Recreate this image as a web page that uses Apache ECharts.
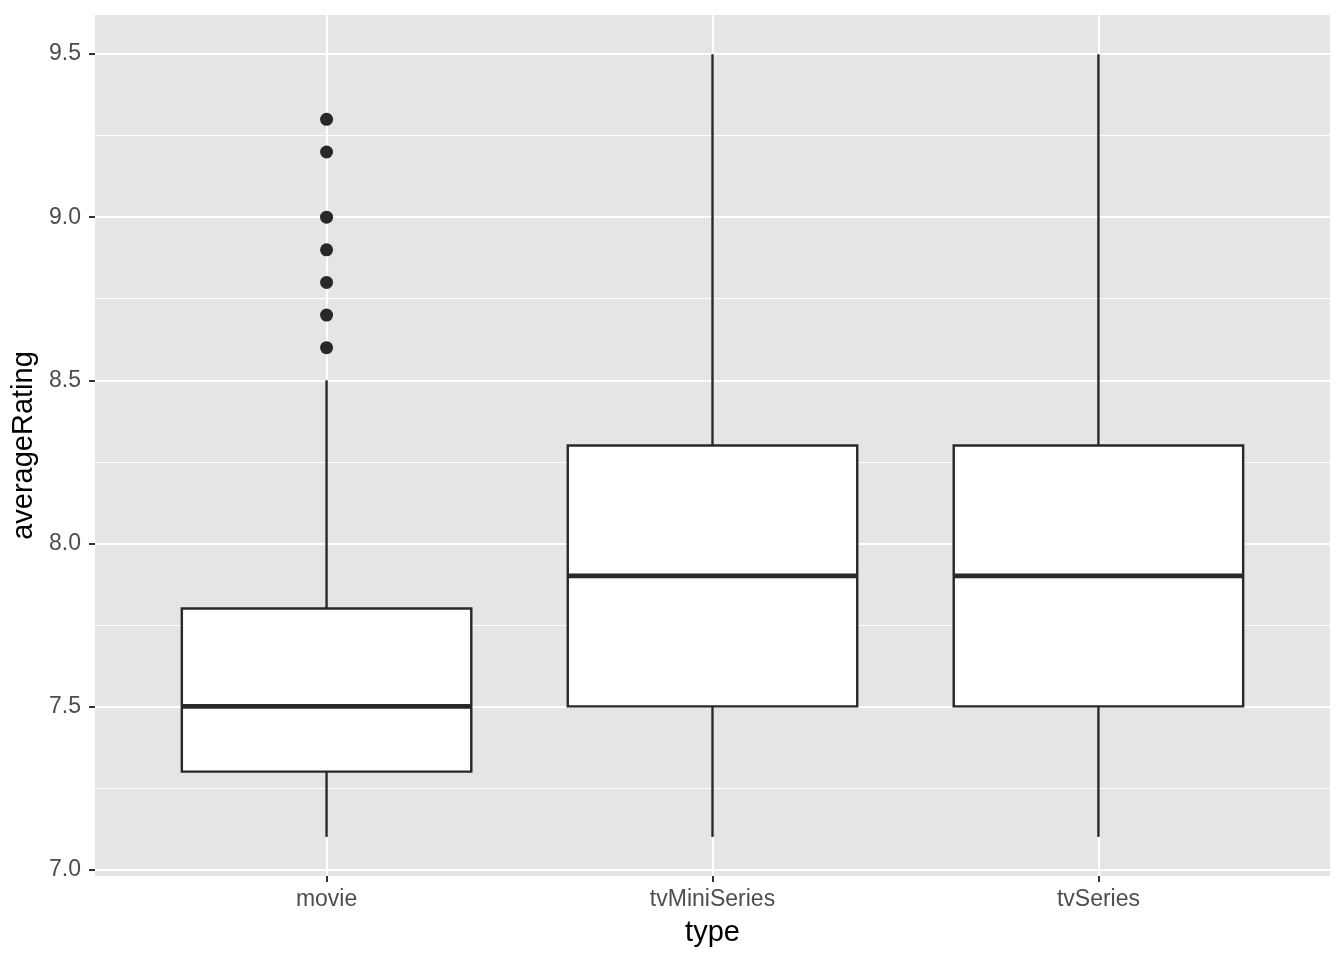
<!DOCTYPE html>
<html>
<head>
<meta charset="utf-8">
<script src="https://cdn.jsdelivr.net/npm/echarts@6/dist/echarts.min.js"></script>
<style>
html,body{margin:0;padding:0;background:#fff;}
#chart{width:1344px;height:960px;}
</style>
</head>
<body>
<div id="chart"></div>
<script>
// ---- data ----
var categories = ['movie', 'tvMiniSeries', 'tvSeries'];
// [lower whisker, Q1, median, Q3, upper whisker]
var boxStats = [
  [7.1, 7.3, 7.5, 7.8, 8.5],
  [7.1, 7.5, 7.9, 8.3, 9.5],
  [7.1, 7.5, 7.9, 8.3, 9.5]
];
var outlierCategory = ['movie', 'movie', 'movie', 'movie', 'movie', 'movie', 'movie'];
var outlierValues = [8.6, 8.7, 8.8, 8.9, 9.0, 9.2, 9.3];
var yMajorTicks = [7.0, 7.5, 8.0, 8.5, 9.0, 9.5];
var yMinorTicks = [7.25, 7.75, 8.25, 8.75, 9.25];
var yTickLabels = ['7.0', '7.5', '8.0', '8.5', '9.0', '9.5'];

// ---- build ----
var FONT = 'Liberation Sans, Arial, Helvetica, sans-serif';
var INK = '#282828';
var BOX_W = 0.75;
var catPos = categories.map(function (c, i) { return i + 1; });
var boxData = boxStats.map(function (s, i) { return [catPos[i]].concat(s); });
var outData = outlierValues.map(function (v, i) {
  return [categories.indexOf(outlierCategory[i]) + 1, v];
});

var chart = echarts.init(document.getElementById('chart'), null, { renderer: 'canvas' });
var option = {
  animation: false,
  backgroundColor: '#ffffff',
  grid: {
    left: 95, right: 14, top: 15, bottom: 84,
    show: true, backgroundColor: '#E5E5E5', borderWidth: 0
  },
  xAxis: {
    type: 'value',
    min: 0.4, max: 3.6,
    name: 'type',
    nameLocation: 'middle',
    nameGap: 42,
    nameTextStyle: { color: '#000000', fontSize: 29, fontFamily: FONT },
    axisLine: { show: false },
    axisTick: { show: true, length: 6, customValues: catPos, lineStyle: { color: '#333333', width: 2 } },
    axisLabel: {
      customValues: catPos,
      color: '#4D4D4D', fontSize: 23, fontFamily: FONT, margin: 12,
      formatter: function (v) { return categories[Math.round(v) - 1] || ''; }
    },
    splitLine: { show: true, lineStyle: { color: '#ffffff', width: 2 } }
  },
  yAxis: [{
    type: 'value',
    min: 6.98, max: 9.62,
    name: 'averageRating',
    nameLocation: 'middle',
    nameGap: 53,
    nameTextStyle: { color: '#000000', fontSize: 29, fontFamily: FONT },
    axisLine: { show: false },
    axisTick: { show: true, length: 6, customValues: yMajorTicks, lineStyle: { color: '#333333', width: 2 } },
    axisLabel: {
      customValues: yMajorTicks,
      color: '#4D4D4D', fontSize: 23, fontFamily: FONT, margin: 14,
      formatter: function (v) {
        var i = yMajorTicks.indexOf(Math.round(v * 100) / 100);
        return i >= 0 ? yTickLabels[i] : '';
      }
    },
    splitLine: { show: true, lineStyle: { color: '#ffffff', width: 2 } },
    z: 1
  }, {
    type: 'value',
    min: 6.98, max: 9.62,
    position: 'left',
    axisLine: { show: false },
    axisTick: { show: false, customValues: yMinorTicks },
    axisLabel: { show: false, customValues: yMinorTicks },
    splitLine: { show: true, lineStyle: { color: '#ffffff', width: 1 } },
    z: 0
  }],
  series: [{
    type: 'custom',
    xAxisIndex: 0, yAxisIndex: 0,
    data: boxData,
    encode: { x: 0, y: [1, 2, 3, 4, 5] },
    renderItem: function (params, api) {
      var x = api.value(0);
      var pLo = api.coord([x, api.value(1)]);
      var pQ1 = api.coord([x, api.value(2)]);
      var pMed = api.coord([x, api.value(3)]);
      var pQ3 = api.coord([x, api.value(4)]);
      var pHi = api.coord([x, api.value(5)]);
      var w = api.size([BOX_W, 0])[0];
      var cx = pMed[0];
      var ls = { stroke: INK, lineWidth: 2.4, fill: null };
      return {
        type: 'group',
        children: [
          { type: 'line', shape: { x1: cx, y1: pHi[1], x2: cx, y2: pQ3[1] }, style: ls },
          { type: 'line', shape: { x1: cx, y1: pQ1[1], x2: cx, y2: pLo[1] }, style: ls },
          { type: 'rect', shape: { x: cx - w / 2, y: pQ3[1], width: w, height: pQ1[1] - pQ3[1] },
            style: { fill: '#ffffff', stroke: INK, lineWidth: 2.4 } },
          { type: 'line', shape: { x1: cx - w / 2, y1: pMed[1], x2: cx + w / 2, y2: pMed[1] },
            style: { stroke: INK, lineWidth: 4.8 } }
        ]
      };
    },
    z: 3
  }, {
    type: 'scatter',
    xAxisIndex: 0, yAxisIndex: 0,
    data: outData,
    symbol: 'circle',
    symbolSize: 13,
    itemStyle: { color: INK, opacity: 1 },
    z: 4
  }]
};
chart.setOption(option);
</script>
</body>
</html>
